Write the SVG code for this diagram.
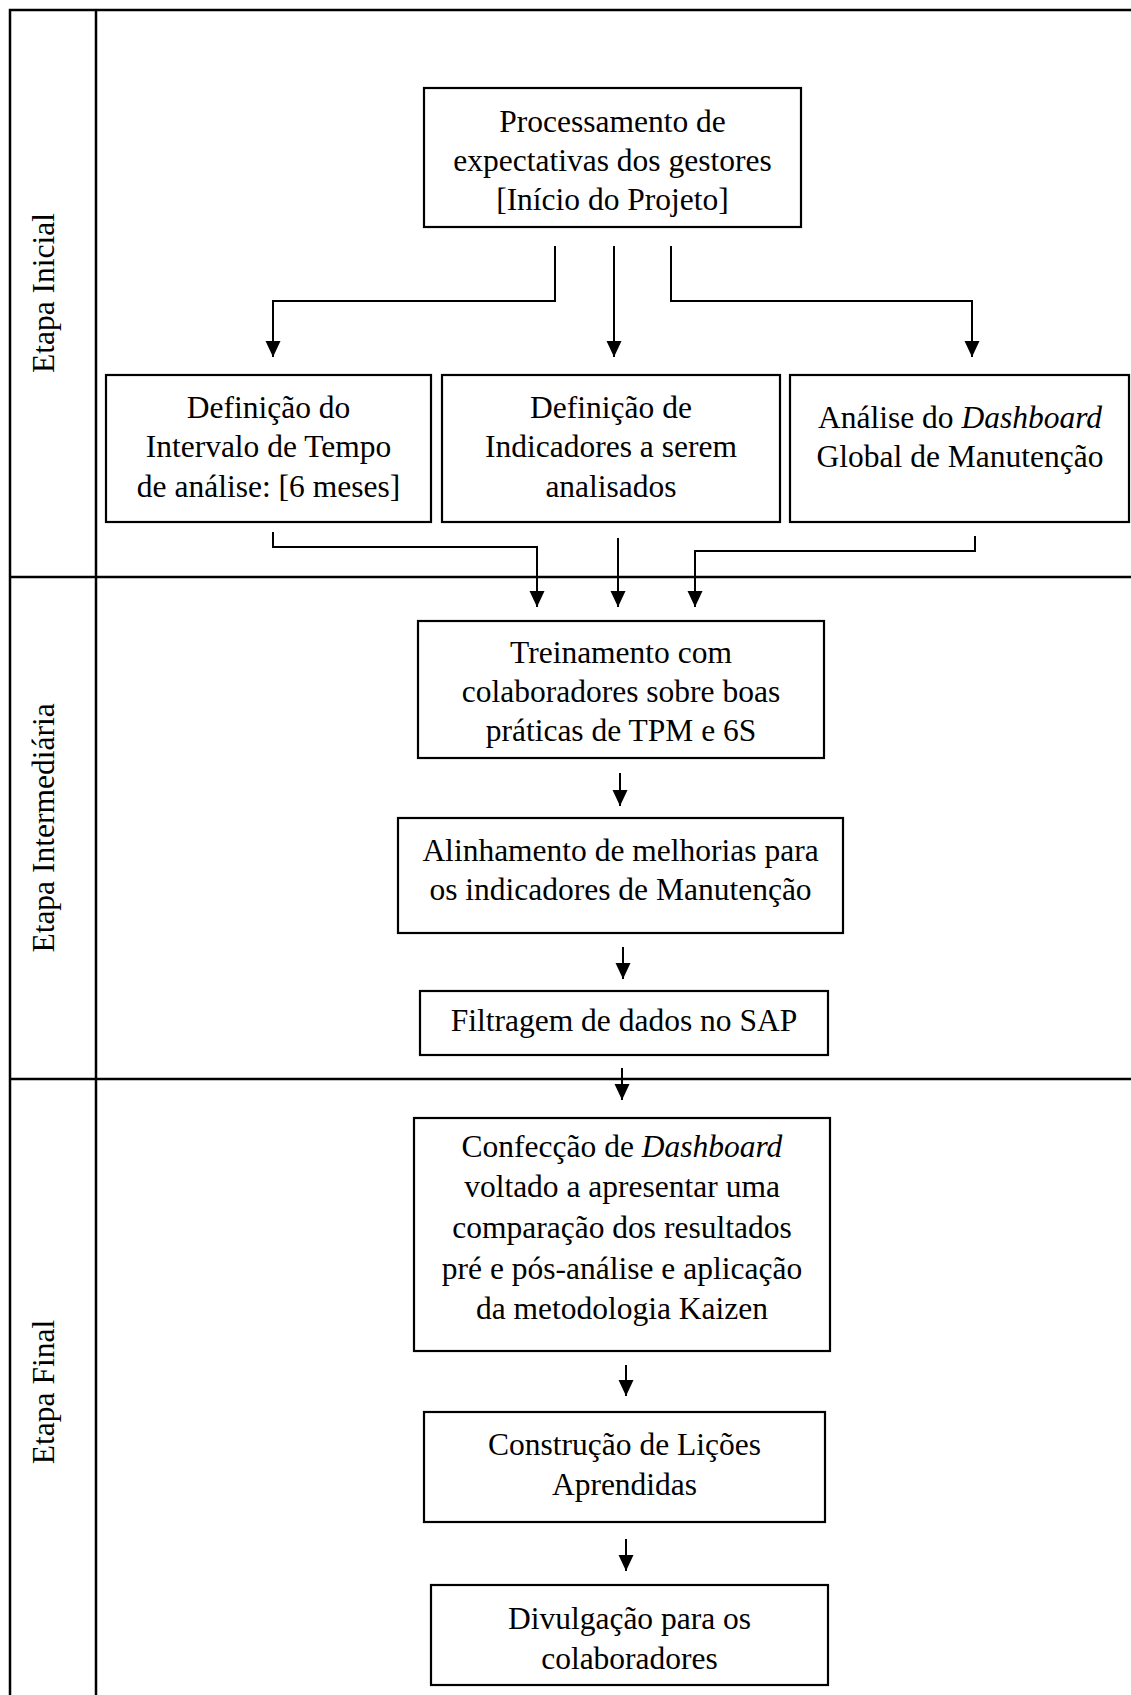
<svg xmlns="http://www.w3.org/2000/svg" width="1131" height="1695" viewBox="0 0 1131 1695">
<style>
  .frame { fill: none; stroke: #000; stroke-width: 2.5; }
  .box { fill: #fff; stroke: #000; stroke-width: 2.2; }
  .t { font-family: "Liberation Serif", "Times New Roman", serif; font-size: 31.5px; fill: #000; text-anchor: middle; }
  .lbl { font-family: "Liberation Serif", "Times New Roman", serif; font-size: 31.5px; fill: #000; text-anchor: middle; }
  .i { font-style: italic; }
  .c { fill: none; stroke: #000; stroke-width: 2; marker-end: url(#ah); }
</style>
<defs>
  <marker id="ah" markerUnits="userSpaceOnUse" markerWidth="16" markerHeight="16" refX="16" refY="7.5" orient="auto">
    <path d="M0,0 L16,7.5 L0,15 z" fill="#000"/>
  </marker>
</defs>
<rect width="1131" height="1695" fill="#fff"/>

<g id="frame">
  <rect class="frame" x="10" y="10" width="1135" height="1700"/>
  <line class="frame" x1="96" y1="10" x2="96" y2="1710"/>
  <line class="frame" x1="10" y1="577" x2="1145" y2="577"/>
  <line class="frame" x1="10" y1="1079" x2="1145" y2="1079"/>
</g>

<g id="lane-labels">
  <text class="lbl" transform="translate(54,293) rotate(-90)">Etapa Inicial</text>
  <text class="lbl" transform="translate(54,828) rotate(-90)">Etapa Intermediária</text>
  <text class="lbl" transform="translate(54,1392) rotate(-90)">Etapa Final</text>
</g>

<g id="connectors">
  <path class="c" d="M555,246 V301 H273 V357"/>
  <path class="c" d="M614,246 V357"/>
  <path class="c" d="M671,246 V301 H972 V357"/>
  <path class="c" d="M273,532 V547 H537 V607"/>
  <path class="c" d="M618,538 V607"/>
  <path class="c" d="M975,536 V551 H695 V607"/>
  <path class="c" d="M620,773 V806"/>
  <path class="c" d="M623,947 V979"/>
  <path class="c" d="M622,1068 V1100"/>
  <path class="c" d="M626,1365 V1396"/>
  <path class="c" d="M626,1539 V1571"/>
</g>

<g id="n-processamento">
  <rect class="box" x="424" y="88" width="377" height="139"/>
  <text class="t" x="612.5" y="132">Processamento de</text>
  <text class="t" x="612.5" y="171">expectativas dos gestores</text>
  <text class="t" x="612.5" y="210">[Início do Projeto]</text>
</g>

<g id="n-intervalo">
  <rect class="box" x="106" y="375" width="325" height="147"/>
  <text class="t" x="268.5" y="418">Definição do</text>
  <text class="t" x="268.5" y="457">Intervalo de Tempo</text>
  <text class="t" x="268.5" y="497">de análise: [6 meses]</text>
</g>

<g id="n-indicadores">
  <rect class="box" x="442" y="375" width="338" height="147"/>
  <text class="t" x="611" y="418">Definição de</text>
  <text class="t" x="611" y="457">Indicadores a serem</text>
  <text class="t" x="611" y="497">analisados</text>
</g>

<g id="n-dashboard-global">
  <rect class="box" x="790" y="375" width="339" height="147"/>
  <text class="t" x="960" y="428">Análise do <tspan class="i">Dashboard</tspan></text>
  <text class="t" x="960" y="467">Global de Manutenção</text>
</g>

<g id="n-treinamento">
  <rect class="box" x="418" y="621" width="406" height="137"/>
  <text class="t" x="621" y="663">Treinamento com</text>
  <text class="t" x="621" y="702">colaboradores sobre boas</text>
  <text class="t" x="621" y="741">práticas de TPM e 6S</text>
</g>

<g id="n-alinhamento">
  <rect class="box" x="398" y="818" width="445" height="115"/>
  <text class="t" x="620.5" y="861">Alinhamento de melhorias para</text>
  <text class="t" x="620.5" y="900">os indicadores de Manutenção</text>
</g>

<g id="n-filtragem">
  <rect class="box" x="420" y="991" width="408" height="64"/>
  <text class="t" x="624" y="1031">Filtragem de dados no SAP</text>
</g>

<g id="n-confeccao">
  <rect class="box" x="414" y="1118" width="416" height="233"/>
  <text class="t" x="622" y="1157">Confecção de <tspan class="i">Dashboard</tspan></text>
  <text class="t" x="622" y="1197">voltado a apresentar uma</text>
  <text class="t" x="622" y="1238">comparação dos resultados</text>
  <text class="t" x="622" y="1279">pré e pós-análise e aplicação</text>
  <text class="t" x="622" y="1319">da metodologia Kaizen</text>
</g>

<g id="n-construcao">
  <rect class="box" x="424" y="1412" width="401" height="110"/>
  <text class="t" x="624.5" y="1455">Construção de Lições</text>
  <text class="t" x="624.5" y="1495">Aprendidas</text>
</g>

<g id="n-divulgacao">
  <rect class="box" x="431" y="1585" width="397" height="100"/>
  <text class="t" x="629.5" y="1629">Divulgação para os</text>
  <text class="t" x="629.5" y="1669">colaboradores</text>
</g>
</svg>
